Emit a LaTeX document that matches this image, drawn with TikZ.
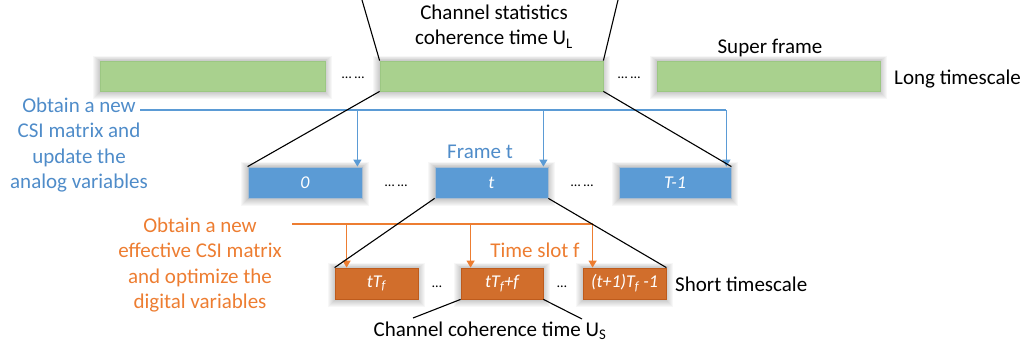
\documentclass[tikz,border=0pt]{standalone}
\usepackage{fontspec}
\setmainfont{Carlito}
\usetikzlibrary{arrows.meta,backgrounds}
\definecolor{gfill}{HTML}{A9D18E}
\definecolor{gline}{HTML}{9CC783}
\definecolor{bfill}{HTML}{5B9BD5}
\definecolor{bline}{HTML}{A9BCCF}
\definecolor{btext}{HTML}{4F8CC9}
\definecolor{ofill}{HTML}{D16E2C}
\definecolor{oline}{HTML}{BE5B1C}
\definecolor{otext}{HTML}{ED7D31}
\begin{document}
\begin{tikzpicture}[x=1pt,y=-1pt,
  lbl/.style={font=\fontsize{21}{25.5}\selectfont, inner sep=0pt, align=center},
  dots/.style={font=\fontsize{14}{16}\selectfont, inner sep=0pt},
  inbox/.style={font=\fontsize{18}{20}\selectfont\itshape, text=white, inner sep=0pt},
  gbox/.style={draw=gline, fill=gfill, line width=0.8pt, minimum height=30pt},
  bbox/.style={draw=bline, fill=bfill, line width=0.8pt, minimum height=31pt, inbox},
  obox/.style={draw=oline, fill=ofill, line width=0.8pt, minimum height=31pt, inbox},
  link/.style={black, line width=1.1pt},
  bconn/.style={draw=bfill, line width=1.3pt},
  oconn/.style={draw=otext, line width=1.3pt},
  barr/.style={bconn, -{Triangle[width=8pt,length=7pt]}},
  oarr/.style={oconn, -{Triangle[width=8pt,length=7pt]}}]
\useasboundingbox (0,0) rectangle (1030,348);

% long timescale
\node[gbox, minimum width=225pt] (g1) at (212.5,76) {};
\node[gbox, minimum width=223pt] (g2) at (491.5,76) {};
\node[gbox, minimum width=223pt] (g3) at (768.5,76) {};
\node[dots] (gd1) at (353,78) {… …};
\node[dots] (gd2) at (629,78) {… …};

% frames
\node[bbox, minimum width=114pt] (b0) at (305,182.5) {0};
\node[bbox, minimum width=113pt] (bt) at (491.5,182.5) {t};
\node[bbox, minimum width=112pt] (bT) at (675,182.5) {T-1};
\node[dots] (bd1) at (396,186) {… …};
\node[dots] (bd2) at (582,186) {… …};

% time slots
\node[obox, minimum width=83pt] (o1) at (376.5,283.5) {tT\textsubscript{f}};
\node[obox, minimum width=82pt] (o2) at (502,283.5) {tT\textsubscript{f}+f};
\node[obox, minimum width=83pt] (o3) at (624.5,283.5) {(t+1)T\textsubscript{f} -1};
\node[dots] (od1) at (437,287) {…};
\node[dots] (od2) at (562,287) {…};

% shadows
\begin{scope}[on background layer]
\foreach \n in {g1,g2,g3,b0,bt,bT,o1,o2,o3}{
  \foreach \i in {1,...,7}{
    \fill[black,opacity=0.03] ([shift={(-\i*0.9,-\i*0.65)}]\n.north west) rectangle ([shift={(\i*0.9,\i*1.1)}]\n.south east);
  }}
\end{scope}

% labels
\node[lbl] (cs) at (494,26.5) {Channel statistics\\coherence time U\textsubscript{L}};
\node[lbl] (sf) at (770,48) {Super frame};
\node[lbl, anchor=west] (lt) at (894,79) {Long timescale};
\node[lbl, text=btext] (ft) at (480,152) {Frame t};
\node[lbl, text=btext] (bl) at (79,145) {Obtain a new\\CSI matrix and\\update the\\analog variables};
\node[lbl, text=otext] (ol) at (200,265) {Obtain a new\\effective CSI matrix\\and optimize the\\digital variables};
\node[lbl, text=otext] (ts) at (535,250) {Time slot f};
\node[lbl, anchor=west] (st) at (675,284) {Short timescale};
\node[lbl] (cc) at (490,331) {Channel coherence time U\textsubscript{S}};

% connector ends
\coordinate (top1) at (362,0);
\coordinate (top2) at (618,0);
\coordinate (ccl) at (413,318);
\coordinate (ccr) at (582,319);
\coordinate (bstart) at (140,110);
\coordinate (ostart) at (292,224);
\coordinate (ab0) at ([xshift=-5pt]b0.north east);
\coordinate (abt) at ([xshift=-5pt]bt.north east);
\coordinate (abT) at ([xshift=-5pt]bT.north east);
\coordinate (ao1) at ([xshift=12pt]o1.north west);
\coordinate (ao2) at ([xshift=10pt]o2.north west);
\coordinate (ao3) at ([xshift=10pt]o3.north west);

% blue arrows
\draw[bconn] (bstart) -- (bstart -| abT);
\foreach \n in {ab0,abt,abT}
  \draw[barr] (bstart -| \n) -- (\n);

% orange arrows
\draw[oconn] (ostart) -- (ostart -| ao3);
\foreach \n in {ao1,ao2,ao3}
  \draw[oarr] (ostart -| \n) -- (\n);

% black zoom lines
\draw[link] (top1) -- (g2.north west);
\draw[link] (top2) -- (g2.north east);
\draw[link] (g2.south west) -- (b0.north west);
\draw[link] (g2.south east) -- (bT.north east);
\draw[link] (bt.south west) -- (o1.north west);
\draw[link] (bt.south east) -- (o3.north east);
\draw[link] (o2.south west) -- (ccl);
\draw[link] (o2.south east) -- (ccr);
\end{tikzpicture}
\end{document}
